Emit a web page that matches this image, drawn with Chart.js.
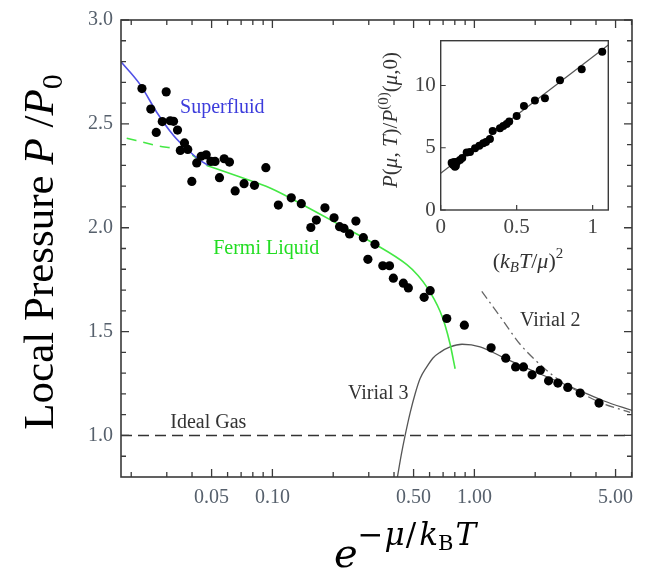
<!DOCTYPE html>
<html lang="en">
<head>
<meta charset="UTF-8">
<title>Local Pressure</title>
<script src="https://cdn.jsdelivr.net/npm/chart.js"></script>
<style>
  body { margin: 0; background: #fff; }
  #wrap { position: relative; width: 648px; height: 571px; }
  #wrap canvas { position: absolute; left: 0; top: 0; }
</style>
</head>
<body>
<div id="wrap">
  <canvas id="mainChart" width="648" height="571"></canvas>
  <canvas id="insetChart" width="648" height="571"></canvas>
</div>
<script>
// ---- main plot data ----
const dataX = [0.0226, 0.0298, 0.0250, 0.0266, 0.0285, 0.0312, 0.0324, 0.0339, 0.0367, 0.0350,
  0.0381, 0.0399, 0.0422, 0.0444, 0.0470, 0.0496, 0.0520, 0.0547, 0.0577, 0.0613,
  0.0654, 0.0724, 0.0815, 0.0928, 0.107, 0.124, 0.139, 0.155, 0.165, 0.182,
  0.202, 0.215, 0.226, 0.241, 0.259, 0.282, 0.322, 0.297, 0.352, 0.380,
  0.397, 0.445, 0.471, 0.564, 0.604, 0.730, 0.892, 1.21, 1.43, 1.60,
  1.75, 1.93, 2.12, 2.33, 2.59, 2.90, 3.34, 4.14];
const dataY = [2.670, 2.654, 2.571, 2.459, 2.511, 2.515, 2.512, 2.470, 2.408, 2.372,
  2.377, 2.223, 2.312, 2.344, 2.351, 2.319, 2.319, 2.241, 2.332, 2.316,
  2.177, 2.212, 2.204, 2.289, 2.109, 2.144, 2.116, 2.001, 2.037, 2.096,
  2.048, 2.005, 1.997, 1.970, 2.032, 1.952, 1.920, 1.848, 1.817, 1.817,
  1.757, 1.733, 1.710, 1.665, 1.697, 1.563, 1.531, 1.422, 1.372, 1.330,
  1.330, 1.292, 1.314, 1.263, 1.252, 1.231, 1.204, 1.156];

const superfluidX = [0.0178, 0.0221, 0.0268, 0.0324, 0.0377, 0.0439, 0.0481];
const superfluidY = [2.799, 2.690, 2.555, 2.444, 2.379, 2.324, 2.301];

const fermiDashX = [0.0190, 0.0263, 0.0377, 0.0473];
const fermiDashY = [2.431, 2.397, 2.364, 2.300];
const fermiX = [0.0473, 0.0692, 0.0974, 0.148, 0.216, 0.316, 0.463, 0.526, 0.583, 0.632, 0.676, 0.716, 0.758, 0.803];
const fermiY = [2.300, 2.244, 2.191, 2.100, 2.013, 1.925, 1.822, 1.770, 1.713, 1.656, 1.598, 1.531, 1.440, 1.321];

const virial3X = [0.416, 0.434, 0.454, 0.481, 0.509, 0.538, 0.581, 0.624, 0.676, 0.758, 0.869, 1.067, 1.392, 2.036, 3.337, 4.351, 6.06];
const virial3Y = [0.800, 0.904, 1.000, 1.110, 1.201, 1.273, 1.330, 1.373, 1.400, 1.426, 1.439, 1.427, 1.375, 1.303, 1.215, 1.167, 1.120];

const virial2X = [1.088, 1.392, 1.684, 2.196, 2.657, 3.337, 4.191, 5.90];
const virial2Y = [1.694, 1.550, 1.439, 1.327, 1.263, 1.207, 1.159, 1.111];

const idealX = [0.0178, 6.03];
const idealY = [1.0, 1.0];

const xMajorTicks = [0.05, 0.1, 0.5, 1, 5];
const xTickLabels = ['0.05', '0.10', '0.50', '1.00', '5.00'];
const xMinorTicks = [0.02, 0.03, 0.04, 0.06, 0.07, 0.08, 0.09, 0.2, 0.3, 0.4, 0.6, 0.7, 0.8, 0.9, 2, 3, 4, 6];
const yMajorTicks = [1.0, 1.5, 2.0, 2.5, 3.0];
const yTickLabels = ['1.0', '1.5', '2.0', '2.5', '3.0'];
const yMinorTicks = [0.9, 1.1, 1.2, 1.3, 1.4, 1.6, 1.7, 1.8, 1.9, 2.1, 2.2, 2.3, 2.4, 2.6, 2.7, 2.8, 2.9];

// ---- inset data ----
const insetX = [0.072, 0.078, 0.083, 0.088, 0.094, 0.100, 0.109, 0.127, 0.142, 0.171, 0.193, 0.226, 0.254,
  0.280, 0.298, 0.324, 0.342, 0.390, 0.412, 0.434, 0.451, 0.500, 0.548, 0.620, 0.686, 0.785, 0.928, 1.063];
const insetY = [3.80, 3.70, 3.62, 3.85, 3.48, 3.55, 3.88, 4.02, 4.18, 4.61, 4.66, 4.96, 5.17,
  5.36, 5.47, 5.71, 6.35, 6.57, 6.75, 6.91, 7.10, 7.56, 8.36, 8.79, 8.98, 10.43, 11.31, 12.72];
const insetFitX = [0, 1.103];
const insetFitY = [2.95, 13.26];
const insetXTicks = [0, 0.5, 1];
const insetXLabels = ['0', '0.5', '1'];
const insetYTicks = [0, 5, 10];
const insetYLabels = ['0', '5', '10'];

const SERIF = "'Liberation Serif', 'DejaVu Serif', serif";
const MATH = "'DejaVu Serif', serif";

function pts(xs, ys) {
  return xs.map((x, i) => ({ x: x, y: ys[i] }));
}

// draws a row of text pieces centred on x, baseline at y; gap adds space after a piece
function drawRich(ctx, parts, x, y, angle) {
  ctx.save();
  ctx.translate(x, y);
  ctx.rotate(angle || 0);
  ctx.textBaseline = 'alphabetic';
  ctx.textAlign = 'left';
  let w = 0;
  parts.forEach(p => { ctx.font = p.font; w += ctx.measureText(p.text).width + (p.gap || 0); });
  let cx = -w / 2;
  parts.forEach(p => {
    ctx.font = p.font;
    ctx.fillStyle = p.color || '#000';
    ctx.fillText(p.text, cx, p.dy || 0);
    cx += ctx.measureText(p.text).width + (p.gap || 0);
  });
  ctx.restore();
}

// frame round the plot area plus inward tick marks
const frameTicks = {
  id: 'frameTicks',
  afterDatasetsDraw(chart, args, o) {
    const { ctx, chartArea: a, scales: { x, y } } = chart;
    ctx.save();
    ctx.strokeStyle = o.color;
    ctx.lineWidth = o.width;
    ctx.strokeRect(a.left, a.top, a.right - a.left, a.bottom - a.top);
    ctx.lineWidth = o.tickWidth;
    ctx.beginPath();
    const xt = (v, len) => {
      const px = x.getPixelForValue(v);
      ctx.moveTo(px, a.bottom); ctx.lineTo(px, a.bottom - len);
      if (o.mirror) { ctx.moveTo(px, a.top); ctx.lineTo(px, a.top + len); }
    };
    const yt = (v, len) => {
      const py = y.getPixelForValue(v);
      ctx.moveTo(a.left, py); ctx.lineTo(a.left + len, py);
      if (o.mirror) { ctx.moveTo(a.right, py); ctx.lineTo(a.right - len, py); }
    };
    o.xMajor.forEach(v => xt(v, o.majorLen));
    o.xMinor.forEach(v => xt(v, o.minorLen));
    o.yMajor.forEach(v => yt(v, o.majorLen));
    o.yMinor.forEach(v => yt(v, o.minorLen));
    ctx.stroke();
    ctx.restore();
  }
};

// text labels placed in data coordinates, and the axis titles
const textLayer = {
  id: 'textLayer',
  afterDraw(chart, args, o) {
    const { ctx, scales: { x, y } } = chart;
    ctx.save();
    ctx.textAlign = 'left';
    ctx.textBaseline = 'middle';
    (o.labels || []).forEach(l => {
      ctx.font = l.font;
      ctx.fillStyle = l.color;
      ctx.fillText(l.text, x.getPixelForValue(l.x), y.getPixelForValue(l.y));
    });
    ctx.restore();
    (o.titles || []).forEach(t => drawRich(ctx, t.parts, t.x, t.y, t.angle));
  }
};

Chart.register(frameTicks, textLayer);

new Chart(document.getElementById('mainChart'), {
  type: 'scatter',
  data: {
    datasets: [
      { data: pts(dataX, dataY), backgroundColor: '#000', borderColor: '#000', pointRadius: 4.6, borderWidth: 0 },
      { data: pts(superfluidX, superfluidY), showLine: true, borderColor: '#5050e6', borderWidth: 1.6, pointRadius: 0, cubicInterpolationMode: 'monotone' },
      { data: pts(fermiDashX, fermiDashY), showLine: true, borderColor: '#44e844', borderWidth: 1.6, borderDash: [10, 7], pointRadius: 0, cubicInterpolationMode: 'monotone' },
      { data: pts(fermiX, fermiY), showLine: true, borderColor: '#44e844', borderWidth: 1.6, pointRadius: 0, cubicInterpolationMode: 'monotone' },
      { data: pts(virial3X, virial3Y), showLine: true, borderColor: '#555', borderWidth: 1.3, pointRadius: 0, cubicInterpolationMode: 'monotone' },
      { data: pts(virial2X, virial2Y), showLine: true, borderColor: '#666', borderWidth: 1.3, borderDash: [9, 4, 2, 4], pointRadius: 0, cubicInterpolationMode: 'monotone' },
      { data: pts(idealX, idealY), showLine: true, borderColor: '#333', borderWidth: 1.6, borderDash: [11, 6], pointRadius: 0 }
    ]
  },
  options: {
    responsive: false,
    animation: false,
    devicePixelRatio: 1,
    layout: { padding: { top: 17, right: 16, left: 0, bottom: 0 } },
    scales: {
      x: {
        type: 'logarithmic', min: 0.0178, max: 6.03,
        afterBuildTicks: s => { s.ticks = xMajorTicks.map(v => ({ value: v })); },
        afterFit: s => { s.height = 94; },
        grid: { display: false, drawTicks: false },
        border: { display: false },
        ticks: {
          autoSkip: false, maxRotation: 0, padding: 9,
          color: '#56606c', font: { family: SERIF, size: 20 },
          callback: (v, i) => xTickLabels[i]
        }
      },
      y: {
        min: 0.8, max: 3.0,
        afterBuildTicks: s => { s.ticks = yMajorTicks.map(v => ({ value: v })); },
        afterFit: s => { s.width = 121; },
        grid: { display: false, drawTicks: false },
        border: { display: false },
        ticks: {
          autoSkip: false, padding: 8,
          color: '#56606c', font: { family: SERIF, size: 20 },
          callback: (v, i) => yTickLabels[i]
        }
      }
    },
    plugins: {
      legend: { display: false },
      tooltip: { enabled: false },
      frameTicks: {
        color: '#3a3a3a', width: 1.6, tickWidth: 1.3, majorLen: 8, minorLen: 5, mirror: true,
        xMajor: xMajorTicks, xMinor: xMinorTicks, yMajor: yMajorTicks, yMinor: yMinorTicks
      },
      textLayer: {
        labels: [
          { text: 'Superfluid', x: 0.0349, y: 2.579, color: '#3c3cdc', font: '20px ' + SERIF },
          { text: 'Fermi Liquid', x: 0.0509, y: 1.900, color: '#22dd22', font: '20px ' + SERIF },
          { text: 'Ideal Gas', x: 0.0312, y: 1.059, color: '#333', font: '20px ' + SERIF },
          { text: 'Virial 3', x: 0.2369, y: 1.201, color: '#333', font: '20px ' + SERIF },
          { text: 'Virial 2', x: 1.684, y: 1.550, color: '#333', font: '20px ' + SERIF }
        ],
        titles: [
          {
            x: 53, y: 252, angle: -Math.PI / 2, parts: [
              { text: 'Local Pressure ', font: '43px ' + SERIF },
              { text: 'P', font: 'italic 43px ' + SERIF },
              { text: ' /', font: '43px ' + SERIF },
              { text: 'P', font: 'italic 43px ' + SERIF },
              { text: '0', font: '30px ' + SERIF, dy: 9 }
            ]
          },
          {
            x: 405, y: 567, parts: [
              { text: 'e', font: 'italic 40px ' + MATH },
              { text: '\u2212', font: '31px ' + MATH, dy: -22, gap: 1 },
              { text: '\u03bc', font: 'italic 31px ' + MATH, dy: -22, gap: 1 },
              { text: '/', font: '31px ' + MATH, dy: -22, gap: 3 },
              { text: 'k', font: 'italic 31px ' + MATH, dy: -22 },
              { text: 'B', font: '21px ' + MATH, dy: -17, gap: 2 },
              { text: 'T', font: 'italic 31px ' + MATH, dy: -22 }
            ]
          }
        ]
      }
    }
  }
});

new Chart(document.getElementById('insetChart'), {
  type: 'scatter',
  data: {
    datasets: [
      { data: pts(insetX, insetY), backgroundColor: '#000', borderColor: '#000', pointRadius: 4, borderWidth: 0 },
      { data: pts(insetFitX, insetFitY), showLine: true, borderColor: '#555', borderWidth: 1.2, pointRadius: 0 }
    ]
  },
  options: {
    responsive: false,
    animation: false,
    devicePixelRatio: 1,
    layout: { padding: { top: 40.7, right: 39.7, left: 400.7, bottom: 331 } },
    scales: {
      x: {
        min: 0, max: 1.103,
        afterBuildTicks: s => { s.ticks = insetXTicks.map(v => ({ value: v })); },
        afterFit: s => { s.height = 30; },
        grid: { display: false, drawTicks: false },
        border: { display: false },
        ticks: {
          autoSkip: false, maxRotation: 0, padding: 5,
          color: '#444', font: { family: SERIF, size: 21 },
          callback: (v, i) => insetXLabels[i]
        }
      },
      y: {
        min: 0, max: 13.6,
        afterBuildTicks: s => { s.ticks = insetYTicks.map(v => ({ value: v })); },
        afterFit: s => { s.width = 40; },
        grid: { display: false, drawTicks: false },
        border: { display: false },
        ticks: {
          autoSkip: false, padding: 5,
          color: '#444', font: { family: SERIF, size: 21 },
          callback: (v, i) => insetYLabels[i]
        }
      }
    },
    plugins: {
      legend: { display: false },
      tooltip: { enabled: false },
      frameTicks: {
        color: '#3a3a3a', width: 1.4, tickWidth: 1.2, majorLen: 5, minorLen: 0, mirror: false,
        xMajor: insetXTicks, xMinor: [], yMajor: insetYTicks, yMinor: []
      },
      textLayer: {
        labels: [],
        titles: [
          {
            x: 528, y: 268, parts: [
              { text: '(', font: '22px ' + SERIF, color: '#333' },
              { text: 'k', font: 'italic 22px ' + SERIF, color: '#333' },
              { text: 'B', font: 'italic 15px ' + SERIF, color: '#333', dy: 4 },
              { text: 'T', font: 'italic 22px ' + SERIF, color: '#333' },
              { text: '/', font: '22px ' + SERIF, color: '#333' },
              { text: '\u03bc', font: 'italic 22px ' + SERIF, color: '#333' },
              { text: ')', font: '22px ' + SERIF, color: '#333' },
              { text: '2', font: '15px ' + SERIF, color: '#333', dy: -10 }
            ]
          },
          {
            x: 397, y: 120, angle: -Math.PI / 2, parts: [
              { text: 'P', font: 'italic 21px ' + SERIF, color: '#333' },
              { text: '(', font: '21px ' + SERIF, color: '#333' },
              { text: '\u03bc', font: 'italic 21px ' + SERIF, color: '#333' },
              { text: ', ', font: '21px ' + SERIF, color: '#333' },
              { text: 'T', font: 'italic 21px ' + SERIF, color: '#333' },
              { text: ')/', font: '21px ' + SERIF, color: '#333' },
              { text: 'P', font: 'italic 21px ' + SERIF, color: '#333' },
              { text: '(0)', font: '15px ' + SERIF, color: '#333', dy: -9 },
              { text: '(', font: '21px ' + SERIF, color: '#333' },
              { text: '\u03bc', font: 'italic 21px ' + SERIF, color: '#333' },
              { text: ',0)', font: '21px ' + SERIF, color: '#333' }
            ]
          }
        ]
      }
    }
  }
});
</script>
</body>
</html>
